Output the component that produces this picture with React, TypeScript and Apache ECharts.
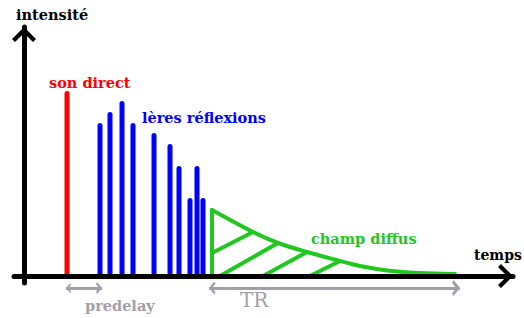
import React, { useEffect, useRef } from 'react';
import * as echarts from 'echarts';

// time in ms (x), intensity in arbitrary units (y)
const directTimes = [17.2];
const directLevels = [74];
const reflectionTimes = [30.4, 34.4, 39.2, 43.6, 52, 58.4, 62, 66.4, 69.2, 71.6];
const reflectionLevels = [61.2, 65.6, 70, 61.2, 57.2, 52.8, 44, 31.2, 44, 31.2];
const diffuseTimes = [75.2, 91.6, 101.6, 113.2, 126.4, 134.4, 142.4, 150.4, 158.4, 172.4];
const diffuseLevels = [26.4, 17.6, 13.2, 9.6, 6.0, 4.0, 2.6, 1.7, 1.2, 0.8];
const hatchStarts = [[75.2, 0], [75.2, 9.2], [78.4, 0], [95.6, 0], [114.4, 0]];
const hatchEnds = [[75.2, 26.4], [91.6, 17.6], [101.6, 13.2], [113.2, 9.6], [126.4, 6.0]];
const predelaySpan = [16.8, 31.2];
const trSpan = [74, 174.4];
const spanLevel = -4.8;

const labels = {
  yName: 'intensité',
  xName: 'temps',
  direct: 'son direct',
  reflections: 'lères réflexions',
  diffuse: 'champ diffus',
  predelay: 'predelay',
  tr: 'TR',
};

const RED = '#ff0000';
const BLUE = '#0000ff';
const GREEN = '#1fc71f';
const GREY = '#a39fa8';
const FONT = '"DejaVu Serif", serif';

const axisArrow = 'path://M0,12 L12,0 L24,12 L21,15 L12,6 L3,15 Z';
const greyArrowBig = 'path://M6.5,-8 L6.5,-8 M0,6.5 L6.5,0 L13,6.5 L11,8 L6.5,4 L2,8 Z';
const greyArrowSmall = 'path://M5,-6 L5,-6 M0,5 L5,0 L10,5 L8.2,6 L5,3.2 L1.8,6 Z';

export default function App() {
  const ref = useRef<HTMLDivElement>(null);
  useEffect(() => {
    document.body.style.margin = '0';
    const chart = echarts.init(ref.current!, null, { renderer: 'svg' });
    const barData = [
      ...directTimes.map((t, i) => ({ value: [t, directLevels[i]], itemStyle: { color: RED } })),
      ...reflectionTimes.map((t, i) => ({ value: [t, reflectionLevels[i]], itemStyle: { color: BLUE } })),
    ];
    const axisCommon = {
      type: 'value' as const,
      z: 10,
      axisTick: { show: false },
      axisLabel: { show: false },
      splitLine: { show: false },
      axisLine: {
        show: true,
        onZero: true,
        symbol: ['none', axisArrow],
        symbolSize: [24, 15],
        symbolOffset: [0, -7.5],
        lineStyle: { color: '#000', width: 5 },
      },
    };
    const textStyle = (text: string, color: string, x: number, y: number, size = 14.5, weight = 'bold') => ({
      type: 'text',
      x,
      y,
      z: 20,
      style: {
        text,
        fill: color,
        font: `${weight} ${size}px ${FONT}`,
        textAlign: 'left',
        textVerticalAlign: 'middle',
      },
    });
    chart.setOption({
      animation: false,
      grid: { left: 14, right: 11, top: 27, bottom: 35, containLabel: false, outerBoundsMode: 'none' },
      xAxis: { ...axisCommon, min: -4, max: 195.6 },
      yAxis: { ...axisCommon, min: -2.8, max: 99.6 },
      series: [
        {
          type: 'bar',
          data: barData,
          barWidth: 5,
          itemStyle: { borderRadius: [2.5, 2.5, 0, 0] },
        },
        {
          type: 'line',
          data: diffuseTimes.map((t, i) => [t, diffuseLevels[i]]),
          smooth: 0.3,
          showSymbol: false,
          lineStyle: { color: GREEN, width: 4, cap: 'round', join: 'round' },
        },
        {
          type: 'lines',
          coordinateSystem: 'cartesian2d',
          data: hatchStarts.map((s, i) => ({ coords: [s, hatchEnds[i]] })),
          lineStyle: { color: GREEN, width: 4, opacity: 1, cap: 'round' },
          symbol: ['none', 'none'],
        },
        {
          type: 'lines',
          coordinateSystem: 'cartesian2d',
          clip: false,
          data: [{ coords: [[predelaySpan[0], spanLevel], [predelaySpan[1], spanLevel]] }],
          lineStyle: { color: GREY, width: 3, opacity: 1 },
          symbol: [greyArrowSmall, greyArrowSmall],
          symbolSize: [10, 12],
        },
        {
          type: 'lines',
          coordinateSystem: 'cartesian2d',
          clip: false,
          data: [{ coords: [[trSpan[0], spanLevel], [trSpan[1], spanLevel]] }],
          lineStyle: { color: GREY, width: 3, opacity: 1 },
          symbol: [greyArrowBig, greyArrowBig],
          symbolSize: [13, 16],
        },
      ],
      graphic: [
        textStyle(labels.yName, '#000', 16, 14),
        textStyle(labels.xName, '#000', 474, 255, 14),
        textStyle(labels.direct, RED, 49, 82),
        textStyle(labels.reflections, BLUE, 142, 117),
        textStyle(labels.diffuse, GREEN, 311, 238),
        textStyle(labels.predelay, GREY, 85, 305),
        textStyle(labels.tr, GREY, 240, 300, 20, 'normal'),
      ],
    });
    return () => chart.dispose();
  }, []);
  return <div ref={ref} style={{ width: 524, height: 318 }} />;
}
